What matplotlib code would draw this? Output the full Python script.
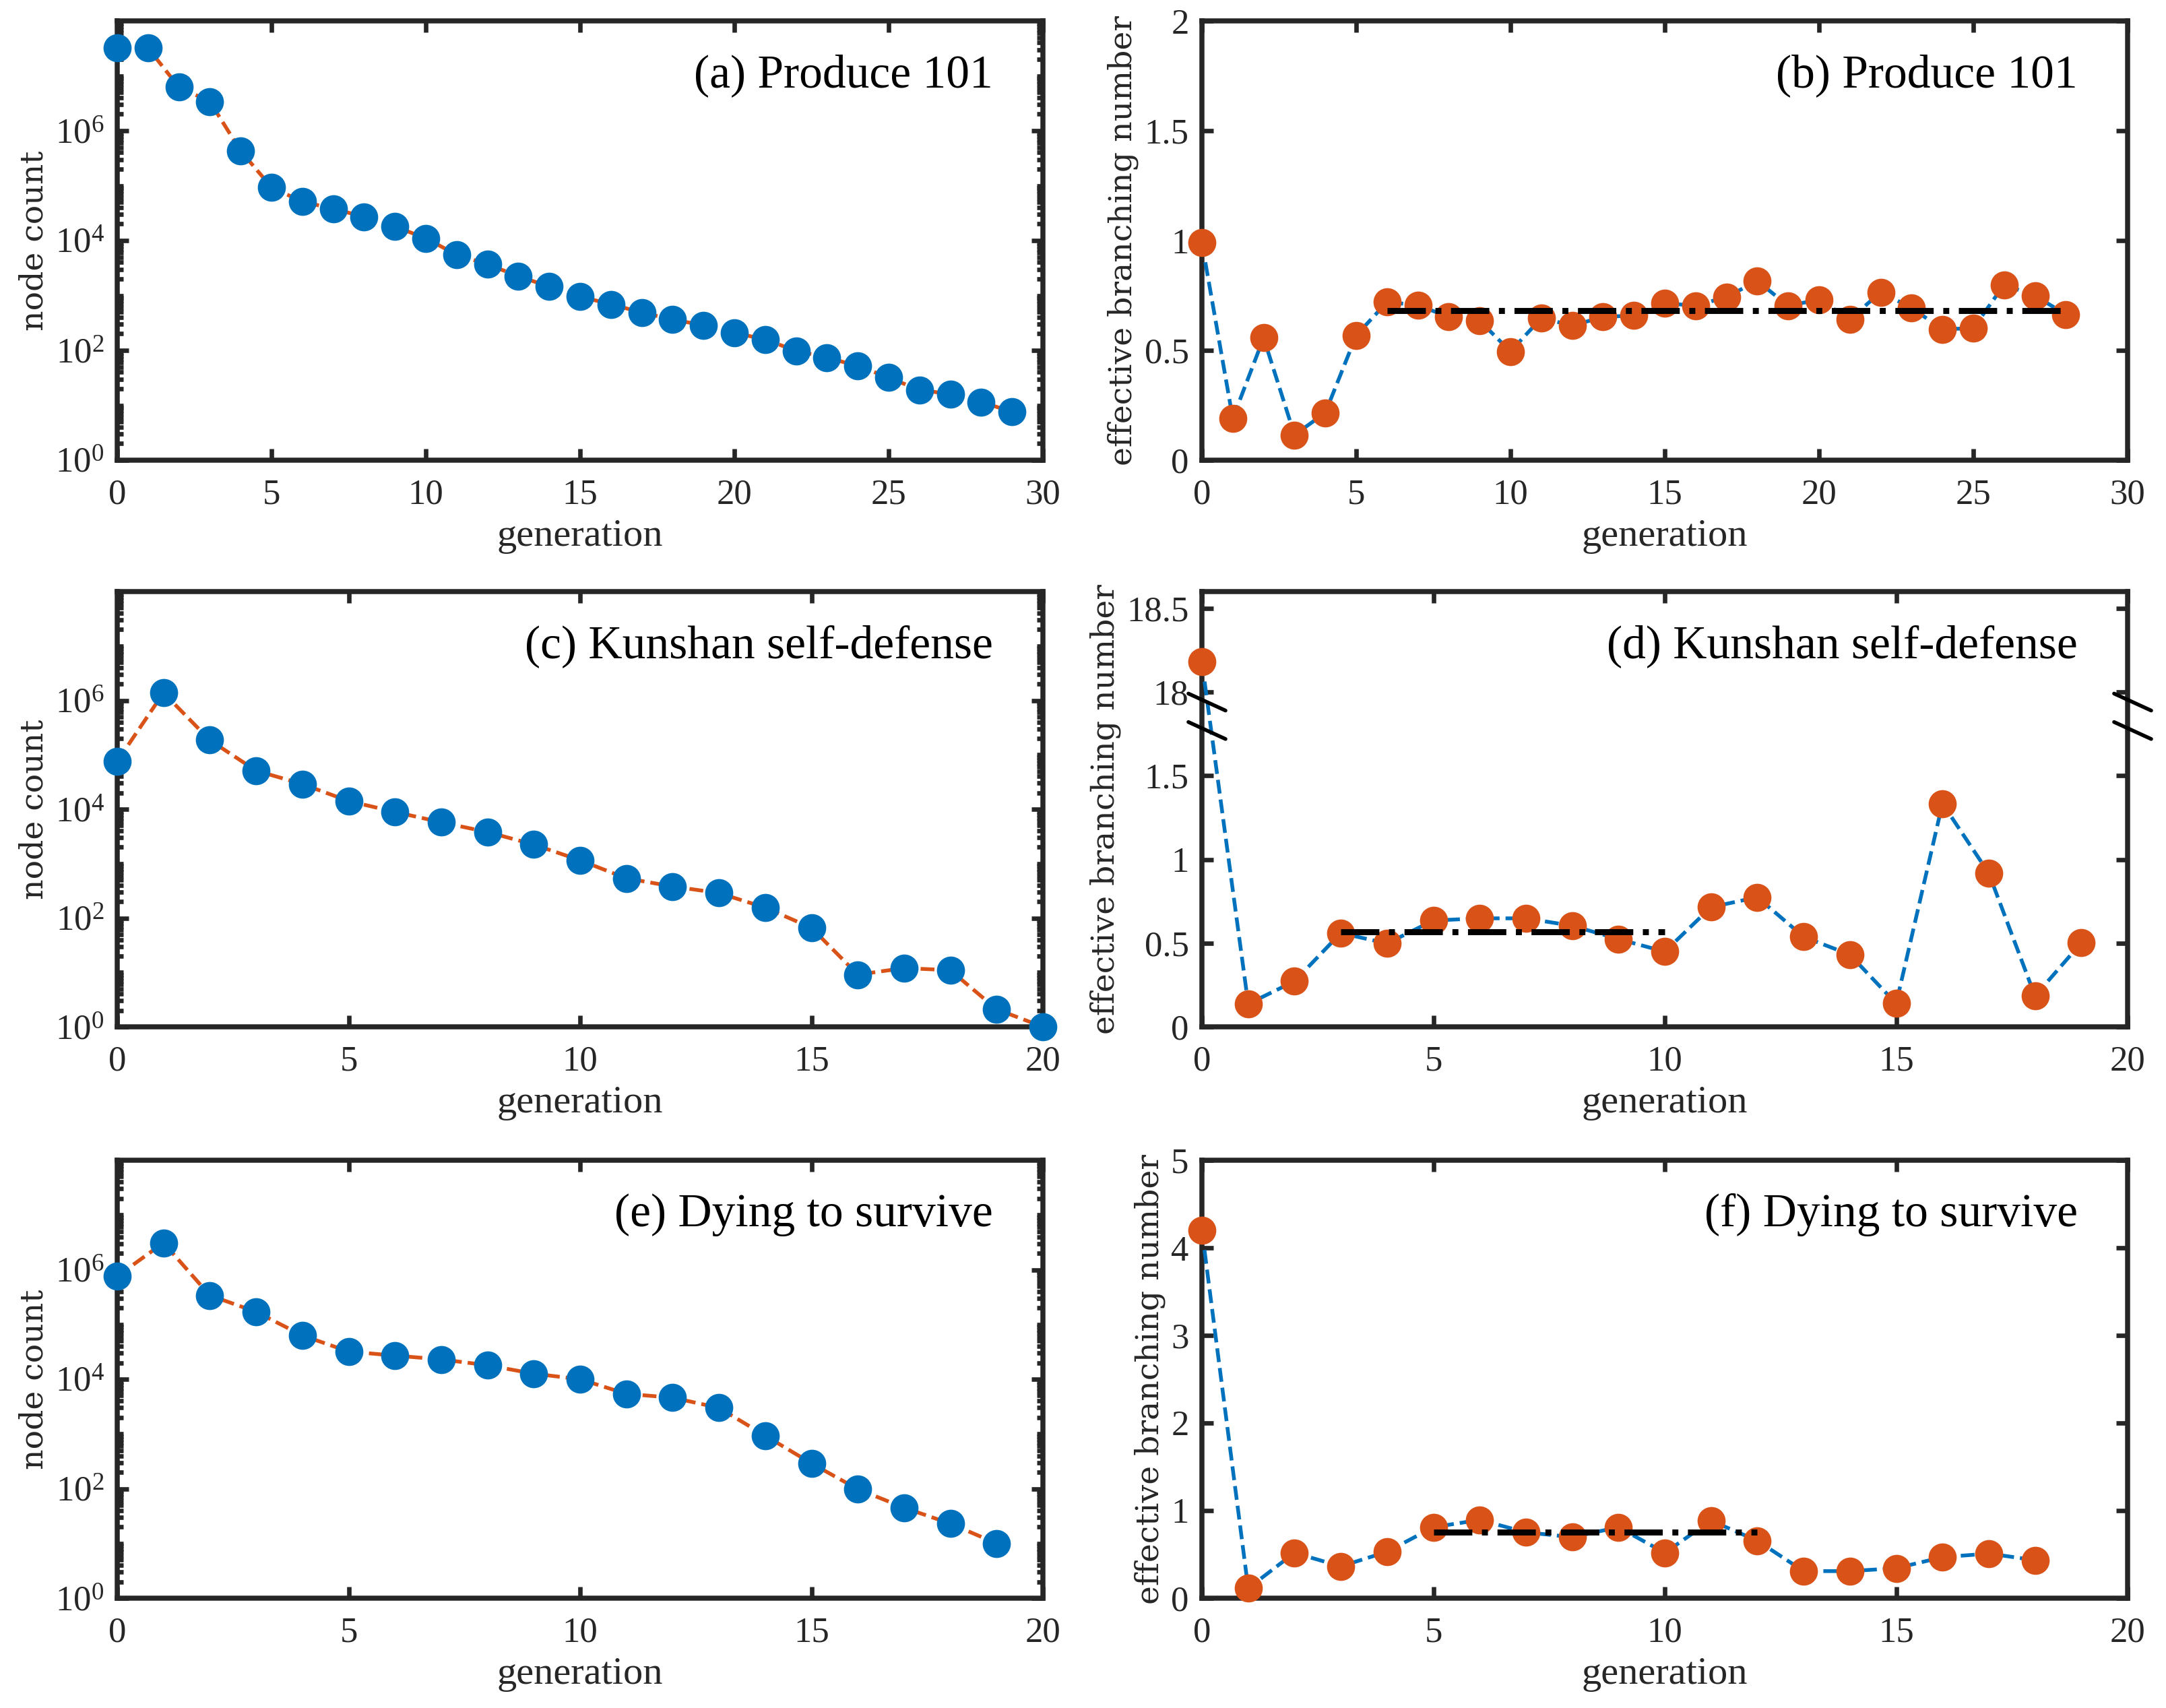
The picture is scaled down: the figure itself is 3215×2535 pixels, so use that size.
import numpy as np
import matplotlib
matplotlib.use('Agg')
import matplotlib.pyplot as plt
from matplotlib.ticker import FixedLocator, LogLocator, NullFormatter

# node counts per generation
produce_nodes = [3.2e7, 3.2e7, 6.2e6, 3.4e6, 4.3e5, 9.3e4, 5.1e4, 3.8e4, 2.7e4, 1.8e4,
                 1.1e4, 5.5e3, 3.7e3, 2.24e3, 1.45e3, 955, 690, 490, 363, 288,
                 209, 158, 98, 74, 52, 32, 19, 16, 11.5, 7.6]
kunshan_nodes = [7.6e4, 1.38e6, 1.86e5, 5.1e4, 2.9e4, 1.41e4, 8.9e3, 5.75e3, 3.8e3, 2.24e3,
                 1.15e3, 537, 380, 288, 155, 66, 9.1, 12, 11, 2.1, 1]
dying_nodes = [7.6e5, 3.1e6, 3.4e5, 1.7e5, 6.3e4, 3.2e4, 2.7e4, 2.3e4, 1.8e4, 1.26e4,
               1.0e4, 5.4e3, 4.6e3, 3.0e3, 930, 290, 98, 45, 23, 10]

# effective branching numbers
produce_branch = [0.99, 0.19, 0.557, 0.115, 0.216, 0.568, 0.72, 0.706, 0.652, 0.635,
                  0.495, 0.647, 0.613, 0.652, 0.659, 0.715, 0.703, 0.743, 0.816, 0.703,
                  0.731, 0.642, 0.765, 0.693, 0.596, 0.601, 0.799, 0.748, 0.664]
kunshan_branch = [18.18, 0.137, 0.272, 0.56, 0.498, 0.635, 0.648, 0.648, 0.604, 0.524,
                  0.449, 0.715, 0.774, 0.538, 0.431, 0.139, 1.334, 0.918, 0.184, 0.502]
dying_branch = [4.20, 0.113, 0.518, 0.363, 0.53, 0.81, 0.894, 0.752, 0.697, 0.81,
                0.518, 0.885, 0.656, 0.309, 0.309, 0.342, 0.468, 0.509, 0.434]

# mean branching number over the steady range: (start gen, end gen, value)
produce_mean = (6, 28, 0.681)
kunshan_mean = (3, 10, 0.569)
dying_mean = (5, 12, 0.752)

titles_nodes = ["(a) Produce 101", "(c) Kunshan self-defense", "(e) Dying to survive"]
titles_branch = ["(b) Produce 101", "(d) Kunshan self-defense", "(f) Dying to survive"]

BLUE = "#0072BD"
ORANGE = "#D95319"
AXC = "#262626"
SERIF = "Liberation Serif"

BREAK_OFFSET = 16.0  # values above the break are drawn shifted down by this

plt.rcParams.update({
    "font.family": SERIF,
    "mathtext.fontset": "custom",
    "mathtext.rm": SERIF,
    "mathtext.it": SERIF + ":italic",
    "axes.linewidth": 2.7,
    "axes.edgecolor": AXC,
    "xtick.color": AXC,
    "ytick.color": AXC,
})

fig = plt.figure(figsize=(16.075, 12.675), dpi=200)

W, H = 3215, 2535
col_left = [174, 1784]
row_box = [(31, 683), (878, 1524), (1722, 2372)]
ax_w = 1374


def make_axes(col, row):
    top, bot = row_box[row]
    return fig.add_axes([col_left[col] / W, 1 - bot / H, ax_w / W, (bot - top) / H])


def style(ax, xmax):
    ax.set_xlim(0, xmax)
    ax.xaxis.set_major_locator(FixedLocator(np.arange(0, xmax + 1, 5)))
    ax.tick_params(which="both", direction="in", top=True, right=True, width=2.4,
                   labelsize=19, labelcolor=AXC)
    ax.tick_params(which="major", length=6)
    ax.tick_params(which="minor", length=3.2)
    ax.tick_params(axis="x", pad=10)
    ax.tick_params(axis="y", pad=7)
    ax.set_xlabel("generation", fontsize=21, color=AXC, labelpad=4)
    for sp in ax.spines.values():
        sp.set_zorder(5)


def corner_text(ax, text):
    ax.text(0.946, 0.875, text, transform=ax.transAxes, ha="right", va="center",
            fontsize=25, color="black")


node_sets = [produce_nodes, kunshan_nodes, dying_nodes]
xmaxes = [30, 20, 20]
for r, nodes in enumerate(node_sets):
    ax = make_axes(0, r)
    g = np.arange(len(nodes))
    ax.plot(g, nodes, "--", color=ORANGE, lw=2.0, zorder=6, clip_on=False)
    ax.plot(g, nodes, "o", color=BLUE, ms=14, mec=BLUE, zorder=7, clip_on=False)
    ax.set_yscale("log")
    ax.set_ylim(1, 1e8)
    ax.yaxis.set_major_locator(FixedLocator([1, 1e2, 1e4, 1e6]))
    ax.yaxis.set_minor_locator(LogLocator(base=10, subs=np.arange(1, 10), numticks=30))
    ax.yaxis.set_minor_formatter(NullFormatter())
    style(ax, xmaxes[r])
    ax.set_yticklabels([r"$10^{0}$", r"$10^{2}$", r"$10^{4}$", r"$10^{6}$"])
    ax.set_ylabel("node count", fontsize=17, family="DejaVu Serif", color=AXC,
                  labelpad=3)
    corner_text(ax, titles_nodes[r])

branch_sets = [produce_branch, kunshan_branch, dying_branch]
means = [produce_mean, kunshan_mean, dying_mean]
ylims = [(0, 2), (0, 2.6), (0, 5)]
yticks = [[0, 0.5, 1, 1.5, 2], [0, 0.5, 1, 1.5, 2.0, 2.5], [0, 1, 2, 3, 4, 5]]
yticklabels = [["0", "0.5", "1", "1.5", "2"],
               ["0", "0.5", "1", "1.5", "18", "18.5"],
               ["0", "1", "2", "3", "4", "5"]]

for r, vals in enumerate(branch_sets):
    ax = make_axes(1, r)
    vals = np.array(vals, dtype=float)
    if r == 1:
        vals = np.where(vals > 2, vals - BREAK_OFFSET, vals)
    g = np.arange(len(vals))
    ax.plot(g, vals, "--", color=BLUE, lw=2.0, zorder=6, clip_on=False)
    g0, g1, m = means[r]
    ax.plot([g0, g1], [m, m], "-.", color="black", lw=3.2, zorder=8)
    ax.plot(g, vals, "o", color=ORANGE, ms=14, mec=ORANGE, zorder=7, clip_on=False)
    ax.set_ylim(*ylims[r])
    ax.yaxis.set_major_locator(FixedLocator(yticks[r]))
    style(ax, xmaxes[r])
    ax.set_yticklabels(yticklabels[r])
    ax.set_ylabel("effective branching number", fontsize=17, family="DejaVu Serif",
                  color=AXC, labelpad=3)
    corner_text(ax, titles_branch[r])
    if r == 1:
        # axis-break marks on both vertical spines
        for yc in (1.94, 1.77):
            yf = yc / ylims[r][1]
            for xs in (0.0, 1.0):
                ax.plot([xs - 0.0146, xs + 0.0255], [yf + 0.0195, yf - 0.0195],
                        transform=ax.transAxes, color="black", lw=2.0,
                        solid_capstyle="round", clip_on=False, zorder=9)

fig.savefig("out.png", dpi=200)
